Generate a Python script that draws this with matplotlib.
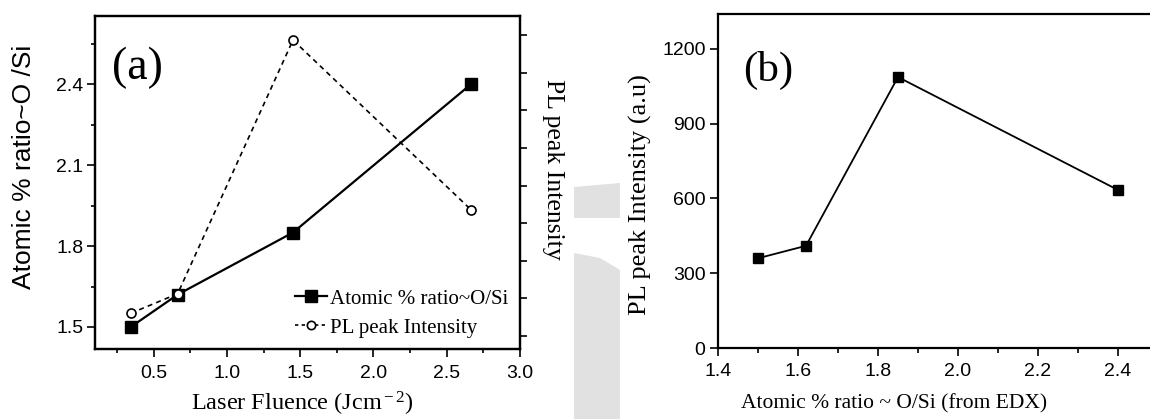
import matplotlib
matplotlib.use('Agg')
import matplotlib.pyplot as plt
from matplotlib.ticker import MultipleLocator, FixedLocator, NullFormatter
from matplotlib.patches import Polygon
from matplotlib.lines import Line2D

# ---------------- data ----------------
fluence = [0.344, 0.664, 1.451, 2.667]          # Laser fluence (J cm^-2)
oxygen_ratio = [1.50, 1.62, 1.85, 2.40]          # Atomic % ratio O/Si
pl_intensity_a = [360, 412, 1087, 635]           # PL peak intensity (right axis)

ratio_b = [1.50, 1.62, 1.85, 2.40]               # Atomic % ratio O/Si (EDX)
pl_intensity_b = [360, 410, 1087, 634]           # PL peak intensity (a.u)

a_xticks = [0.5, 1.0, 1.5, 2.0, 2.5, 3.0]
a_yticks = [1.5, 1.8, 2.1, 2.4]
a_rticks = [300, 400, 500, 600, 700, 800, 900, 1000, 1100]
b_xticks = [1.4, 1.6, 1.8, 2.0, 2.2, 2.4]
b_yticks = [0, 300, 600, 900, 1200]

legend_labels = ["Atomic % ratio~O/Si", "PL peak Intensity"]

# ---------------- style ----------------
plt.rcParams['font.family'] = ['Liberation Sans', 'DejaVu Sans']
plt.rcParams['mathtext.fontset'] = 'custom'
plt.rcParams['mathtext.rm'] = 'Liberation Serif'
plt.rcParams['mathtext.it'] = 'Liberation Serif:italic'
SERIF = ['Liberation Serif', 'DejaVu Serif']

W, H = 1150, 419
fig = plt.figure(figsize=(W / 100, H / 100), dpi=100)
fig.patch.set_facecolor('white')


def box(l, t, r, b):
    return [l / W, 1 - b / H, (r - l) / W, (b - t) / H]


def fx(x):
    return x / W


def fy(y):
    return 1 - y / H


# faint scan watermark between the panels
for pts in ([(574, 187), (620, 183), (620, 218), (574, 218)],
            [(574, 253), (600, 258), (620, 270), (620, 419), (574, 419)]):
    fig.add_artist(Polygon([(fx(x), fy(y)) for x, y in pts], closed=True,
                           transform=fig.transFigure, facecolor='#e1e1e1',
                           edgecolor='none', zorder=0))

# ---------------- panel (a) ----------------
ax = fig.add_axes(box(95, 16, 520, 349))
ax2 = ax.twinx()

ax.plot(fluence, oxygen_ratio, color='black', lw=1.6, marker='s', ms=9,
        mfc='black', mec='black', zorder=3)
ax2.plot(fluence, pl_intensity_a, color='black', lw=1.2, ls=(0, (3, 2.5)),
         marker='o', ms=6.5, mfc='white', mec='black', mew=1.2, zorder=3)

ax.set_xlim(0.1, 3.0)
ax.set_ylim(1.4185, 2.652)
ax2.set_ylim(265, 1151)

ax.xaxis.set_major_locator(FixedLocator(a_xticks))
ax.xaxis.set_minor_locator(MultipleLocator(0.25))
ax.yaxis.set_major_locator(FixedLocator(a_yticks))
ax.yaxis.set_minor_locator(MultipleLocator(0.15))
ax.set_xticklabels([f"{v:.1f}" for v in a_xticks])
ax.set_yticklabels([f"{v:.1f}" for v in a_yticks])
ax2.yaxis.set_major_locator(FixedLocator(a_rticks))
ax2.yaxis.set_major_formatter(NullFormatter())

ax.tick_params(axis='both', which='major', direction='out', length=5.5,
               width=1.2, labelsize=14)
ax.tick_params(axis='x', which='major', pad=6)
ax.tick_params(axis='y', which='major', pad=3)
ax.tick_params(axis='both', which='minor', direction='out', length=3, width=1.2)
ax2.tick_params(axis='y', which='major', direction='out', length=5, width=1.2)
for a in (ax, ax2):
    for s in a.spines.values():
        s.set_linewidth(1.6)

handles = [Line2D([], [], color='black', lw=1.6, marker='s', ms=8),
           Line2D([], [], color='black', lw=1.2, ls=(0, (2, 2)), marker='o',
                  ms=6, mfc='white', mew=1.2)]
ax2.legend(handles, legend_labels, loc='upper left',
           bbox_to_anchor=(fx(295), fy(289)), bbox_transform=fig.transFigure,
           frameon=False, prop={'family': SERIF, 'size': 15},
           handlelength=1.55, handletextpad=0.12, labelspacing=0.45,
           borderpad=0, borderaxespad=0)

fig.text(fx(137), fy(68), "(a)", family=SERIF, fontsize=33,
         ha='center', va='center')
fig.text(fx(24), fy(167), "Atomic % ratio~O /Si", fontsize=19,
         rotation=90, ha='center', va='center')
fig.text(fx(553), fy(169), "PL peak Intensity", family=SERIF, fontsize=18.5,
         rotation=270, ha='center', va='center')
fig.text(fx(302), fy(404), r"Laser Fluence (Jcm$^{\rm -2}$)", family=SERIF,
         fontsize=17.5, ha='center', va='center')

# ---------------- panel (b) ----------------
bx = fig.add_axes(box(718, 14, 1158, 348))
bx.plot(ratio_b, pl_intensity_b, color='black', lw=1.3, marker='s', ms=7.5,
        mfc='black', mec='black')
bx.set_xlim(1.4, 2.5)
bx.set_ylim(0, 1340)
bx.xaxis.set_major_locator(FixedLocator(b_xticks))
bx.xaxis.set_minor_locator(MultipleLocator(0.1))
bx.yaxis.set_major_locator(FixedLocator(b_yticks))
bx.set_xticklabels([f"{v:.1f}" for v in b_xticks])
bx.set_yticklabels([str(v) for v in b_yticks])
bx.tick_params(axis='both', which='major', direction='out', length=6,
               width=1.2, labelsize=14)
bx.tick_params(axis='x', which='major', pad=5)
bx.tick_params(axis='y', which='major', pad=3)
bx.tick_params(axis='x', which='minor', direction='out', length=3.5, width=1.2)
for s in bx.spines.values():
    s.set_linewidth(1.6)

fig.text(fx(768), fy(70), "(b)", family=SERIF, fontsize=31,
         ha='center', va='center')
fig.text(fx(640), fy(195), "PL peak Intensity (a.u)", family=SERIF,
         fontsize=19, rotation=90, ha='center', va='center')
fig.text(fx(894), fy(404), "Atomic % ratio ~ O/Si (from EDX)", family=SERIF,
         fontsize=15.5, ha='center', va='center')

fig.savefig('out.png', dpi=100, facecolor='white')
